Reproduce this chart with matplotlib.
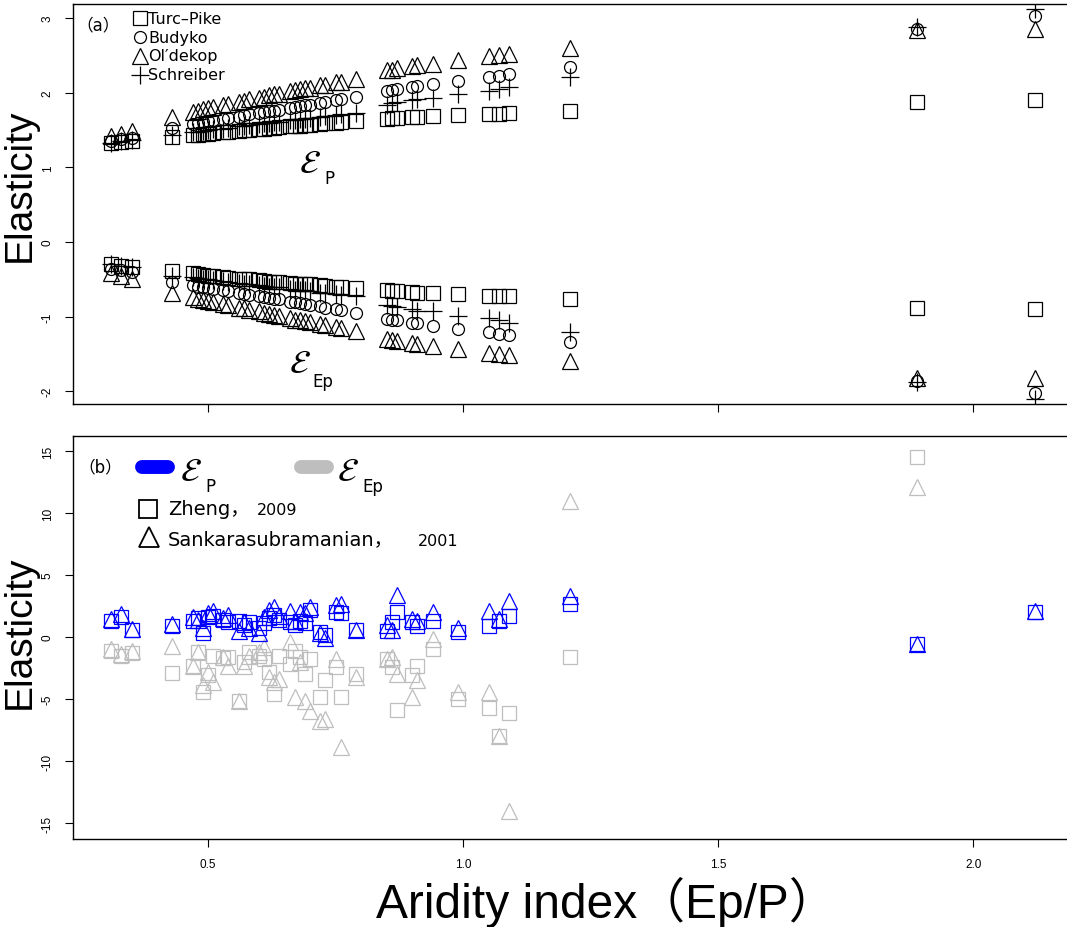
import numpy as np
import matplotlib
matplotlib.use("Agg")
import matplotlib.pyplot as plt

plt.rcParams['mathtext.fontset'] = 'stix'

# ---------------- data ----------------
# Aridity index of the catchments (panel a)
ai = [0.31, 0.33, 0.35, 0.43, 0.47, 0.48, 0.49, 0.50, 0.51, 0.53, 0.54, 0.56, 0.57, 0.58,
      0.60, 0.61, 0.62, 0.63, 0.64, 0.66, 0.67, 0.68, 0.69, 0.70, 0.72, 0.73, 0.75, 0.76,
      0.79, 0.85, 0.86, 0.87, 0.90, 0.91, 0.94, 0.99, 1.05, 1.07, 1.09, 1.21, 1.89, 2.12]

turc_p = [1.33, 1.34, 1.36, 1.41, 1.43, 1.44, 1.45, 1.45, 1.46, 1.47, 1.48, 1.49, 1.50, 1.50,
          1.51, 1.52, 1.53, 1.53, 1.54, 1.55, 1.56, 1.56, 1.57, 1.57, 1.58, 1.59, 1.60, 1.61,
          1.62, 1.65, 1.66, 1.66, 1.67, 1.68, 1.69, 1.70, 1.72, 1.72, 1.73, 1.76, 1.88, 1.90]
budyko_p = [1.36, 1.38, 1.40, 1.53, 1.58, 1.60, 1.61, 1.62, 1.63, 1.65, 1.66, 1.68, 1.70, 1.71,
            1.73, 1.74, 1.75, 1.76, 1.77, 1.80, 1.81, 1.82, 1.83, 1.84, 1.86, 1.88, 1.90, 1.91,
            1.95, 2.03, 2.04, 2.05, 2.08, 2.09, 2.12, 2.16, 2.21, 2.23, 2.25, 2.34, 2.86, 3.03]
oldekop_p = [1.42, 1.45, 1.49, 1.68, 1.74, 1.76, 1.78, 1.79, 1.81, 1.83, 1.85, 1.88, 1.89, 1.91,
             1.93, 1.95, 1.97, 1.98, 1.99, 2.02, 2.04, 2.05, 2.06, 2.07, 2.10, 2.11, 2.14, 2.15,
             2.19, 2.30, 2.31, 2.33, 2.36, 2.37, 2.39, 2.44, 2.49, 2.50, 2.52, 2.60, 2.84, 2.86]
schreiber_p = [1.33, 1.35, 1.37, 1.43, 1.47, 1.48, 1.49, 1.50, 1.51, 1.52, 1.53, 1.55, 1.56, 1.57,
               1.58, 1.59, 1.60, 1.61, 1.61, 1.63, 1.64, 1.65, 1.65, 1.66, 1.68, 1.69, 1.70, 1.71,
               1.73, 1.84, 1.86, 1.87, 1.90, 1.92, 1.93, 1.99, 2.02, 2.05, 2.08, 2.21, 2.88, 3.12]

turc_ep = [-0.30, -0.32, -0.34, -0.39, -0.42, -0.43, -0.44, -0.45, -0.46, -0.47, -0.48, -0.49, -0.50, -0.50,
           -0.51, -0.52, -0.53, -0.53, -0.54, -0.55, -0.56, -0.56, -0.57, -0.57, -0.58, -0.59, -0.60, -0.61,
           -0.62, -0.65, -0.66, -0.66, -0.67, -0.68, -0.69, -0.70, -0.72, -0.72, -0.73, -0.76, -0.88, -0.90]
budyko_ep = [-0.36, -0.38, -0.40, -0.53, -0.58, -0.60, -0.61, -0.62, -0.63, -0.65, -0.66, -0.68, -0.70, -0.71,
             -0.73, -0.74, -0.75, -0.76, -0.77, -0.80, -0.81, -0.82, -0.83, -0.84, -0.86, -0.88, -0.90, -0.91,
             -0.95, -1.03, -1.04, -1.05, -1.08, -1.09, -1.12, -1.16, -1.21, -1.23, -1.25, -1.34, -1.86, -2.03]
oldekop_ep = [-0.42, -0.45, -0.49, -0.68, -0.74, -0.76, -0.78, -0.79, -0.81, -0.83, -0.85, -0.88, -0.89, -0.91,
              -0.93, -0.95, -0.97, -0.98, -0.99, -1.02, -1.04, -1.05, -1.06, -1.07, -1.10, -1.11, -1.14, -1.15,
              -1.19, -1.30, -1.31, -1.33, -1.36, -1.37, -1.39, -1.44, -1.49, -1.50, -1.52, -1.60, -1.82, -1.83]
schreiber_ep = [-0.30, -0.32, -0.34, -0.45, -0.47, -0.48, -0.49, -0.50, -0.51, -0.52, -0.53, -0.55, -0.56, -0.57,
                -0.58, -0.59, -0.60, -0.61, -0.61, -0.63, -0.64, -0.65, -0.65, -0.66, -0.68, -0.69, -0.70, -0.71,
                -0.73, -0.84, -0.86, -0.87, -0.90, -0.92, -0.93, -0.99, -1.02, -1.05, -1.08, -1.21, -1.88, -2.10]

# panel b: non-parametric estimates
zheng_p = [1.3, 1.6, 0.55, 0.9, 1.3, 1.5, 0.3, 1.6, 1.7, 1.4, 1.2, 1.3, 1.0, 1.2,
           0.7, 1.1, 1.5, 1.8, 1.4, 1.2, 1.0, 1.3, 1.1, 2.2, 0.4, 0.2, 2.0, 1.9,
           0.6, 0.5, 1.2, 2.0, 1.2, 0.9, 1.3, 0.4, 0.9, 1.3, 1.7, 2.7, -0.6, 2.0]
sank_p = [1.45, 1.85, 0.65, 1.05, 1.6, 1.4, 0.7, 1.9, 2.1, 1.5, 1.8, 0.5, 1.2, 0.7,
          0.3, 1.6, 2.2, 2.4, 1.7, 2.1, 1.3, 2.0, 1.9, 2.4, 0.3, -0.1, 2.6, 2.7,
          0.6, 1.0, 0.6, 3.4, 1.45, 1.3, 2.0, 0.7, 2.1, 1.45, 2.9, 3.3, -0.6, 2.1]
zheng_ep = [-1.1, -1.5, -1.3, -2.9, -2.3, -1.2, -4.4, -3.1, -1.5, -1.7, -1.6, -5.2, -2.0, -1.2,
            -1.5, -1.8, -2.8, -4.6, -1.5, -2.2, -1.1, -1.6, -3.0, -1.8, -4.8, -3.5, -2.4, -4.8,
            -3.0, -1.8, -2.4, -5.9, -3.1, -2.3, -1.0, -5.0, -5.7, -8.0, -6.1, -1.6, 14.5, np.nan]
sank_ep = [-1.0, -1.4, -1.1, -0.7, -2.3, -1.2, -3.9, -2.8, -3.6, -1.6, -2.3, -5.2, -2.3, -1.5,
           -1.2, -0.8, -3.2, -3.6, -3.4, -0.4, -4.8, -2.0, -5.2, -6.0, -6.8, -6.6, -1.8, -8.9,
           -3.2, -1.8, -1.6, -3.0, -4.8, -3.5, -0.2, -4.4, -4.4, -8.0, -14.0, 11.0, 12.1, np.nan]

xticks = [0.5, 1.0, 1.5, 2.0]
xtick_labels = ["0.5", "1.0", "1.5", "2.0"]
yticks_a = [-2, -1, 0, 1, 2, 3]
yticks_b = [-15, -10, -5, 0, 5, 10, 15]

# ---------------- figure ----------------
W, H = 1067, 928
fig = plt.figure(figsize=(W / 100, H / 100), dpi=100)

def fx(px):
    return px / W

def fy(py):
    return 1 - py / H

ax_left = fx(73)
ax_w = fx(1078) - ax_left
axA = fig.add_axes([ax_left, fy(405), ax_w, fy(5) - fy(405)])
axB = fig.add_axes([ax_left, fy(840), ax_w, fy(437) - fy(840)])

tickfont = ['Liberation Sans', 'DejaVu Sans']
lw = 0.9

def style(ax, yticks, ylim, show_xlabels):
    ax.set_xlim(0.2353, 2.205)
    ax.set_ylim(*ylim)
    ax.set_xticks(xticks)
    ax.set_yticks(yticks)
    ax.set_yticklabels([str(t) for t in yticks], rotation=90, va='center',
                       fontsize=8.5, family=tickfont)
    if show_xlabels:
        ax.set_xticklabels(xtick_labels, fontsize=8.5, family=tickfont)
    else:
        ax.set_xticklabels([])
    ax.tick_params(direction='out', length=6, width=0.8)
    ax.tick_params(axis='y', pad=8)
    ax.tick_params(axis='x', pad=8)
    for s in ax.spines.values():
        s.set_linewidth(1.0)
        s.set_color('black')

style(axA, yticks_a, (-2.172, 3.19), False)
style(axB, yticks_b, (-16.29, 16.21), True)

# axis titles
fig.text(fx(30), fy(185), "Elasticity", fontsize=28, family=tickfont, rotation=90,
         rotation_mode='anchor', ha='center', va='baseline')
fig.text(fx(30), fy(632), "Elasticity", fontsize=28, family=tickfont, rotation=90,
         rotation_mode='anchor', ha='center', va='baseline')
fig.text(fx(606), fy(918), "Aridity index（Ep/P）", fontsize=34.5,
         family=['Liberation Sans', 'Noto Sans CJK SC'], ha='center', va='baseline')

mk = dict(linestyle='none', markerfacecolor='none', markeredgewidth=lw)
sq = dict(marker='s', markersize=9.4)
ci = dict(marker='o', markersize=8.6)
tr = dict(marker='^', markersize=11.5)
pl = dict(marker='+', markersize=12.5)

# Panel a
for vals_p, vals_ep, m in [(turc_p, turc_ep, sq), (budyko_p, budyko_ep, ci),
                          (oldekop_p, oldekop_ep, tr), (schreiber_p, schreiber_ep, pl)]:
    axA.plot(ai, vals_p, color='black', markeredgecolor='black', **m, **mk)
    axA.plot(ai, vals_ep, color='black', markeredgecolor='black', **m, **mk)

# Panel b
grey = '#BEBEBE'
blue = '#0000FF'
axB.plot(ai, zheng_ep, markeredgecolor=grey, **sq, **mk)
axB.plot(ai, sank_ep, markeredgecolor=grey, **tr, **mk)
axB.plot(ai, zheng_p, markeredgecolor=blue, **sq, **mk)
axB.plot(ai, sank_p, markeredgecolor=blue, **tr, **mk)

# annotations in panel a
axA.text(0.700, 1.07, r"$\mathcal{E}$", fontsize=24, ha='center', va='center')
axA.text(0.738, 0.86, "P", fontsize=12, ha='center', va='center', family='DejaVu Sans')
axA.text(0.680, -1.61, r"$\mathcal{E}$", fontsize=24, ha='center', va='center')
axA.text(0.724, -1.86, "Ep", fontsize=12, ha='center', va='center', family='DejaVu Sans')

# legend panel a
cjk = ['DejaVu Sans', 'Noto Sans CJK SC']
fig.text(fx(98), fy(25), "（a）", fontsize=12, ha='center', va='center', family=cjk)
leg_a = [("Turc–Pike", sq), ("Budyko", ci), ("Ol′dekop", tr), ("Schreiber", pl)]
for i, (lab, m) in enumerate(leg_a):
    y = 19 + 19 * i
    fig.add_artist(plt.Line2D([fx(140)], [fy(y)], markeredgecolor='black', **m, **mk))
    fig.text(fx(148), fy(y), lab, fontsize=11.5, ha='left', va='center', family='DejaVu Sans')

# legend panel b
fig.text(fx(100), fy(467), "（b）", fontsize=12, ha='center', va='center', family=cjk)
fig.add_artist(plt.Line2D([fx(142), fx(168)], [fy(468), fy(468)], color=blue, lw=10,
                          solid_capstyle='round'))
fig.text(fx(191), fy(472), r"$\mathcal{E}$", fontsize=24, ha='center', va='center')
fig.text(fx(210), fy(487), "P", fontsize=12, ha='center', va='center', family='DejaVu Sans')
fig.add_artist(plt.Line2D([fx(301), fx(327)], [fy(468), fy(468)], color=grey, lw=10,
                          solid_capstyle='round'))
fig.text(fx(348), fy(472), r"$\mathcal{E}$", fontsize=24, ha='center', va='center')
fig.text(fx(373), fy(487), "Ep", fontsize=12, ha='center', va='center', family='DejaVu Sans')

fig.add_artist(plt.Line2D([fx(148)], [fy(510)], markeredgecolor='black', marker='s',
                          markersize=13, linestyle='none', markerfacecolor='none', markeredgewidth=1.3))
fig.text(fx(168), fy(510), "Zheng，", fontsize=14, ha='left', va='center', family=cjk)
fig.text(fx(257), fy(511), "2009", fontsize=11.5, ha='left', va='center', family=cjk)
fig.add_artist(plt.Line2D([fx(149)], [fy(538)], markeredgecolor='black', marker='^',
                          markersize=15, linestyle='none', markerfacecolor='none', markeredgewidth=1.3))
fig.text(fx(168), fy(540), "Sankarasubramanian，", fontsize=14, ha='left', va='center', family=cjk)
fig.text(fx(418), fy(541), "2001", fontsize=11.5, ha='left', va='center', family=cjk)

fig.savefig("out.png", dpi=100)
